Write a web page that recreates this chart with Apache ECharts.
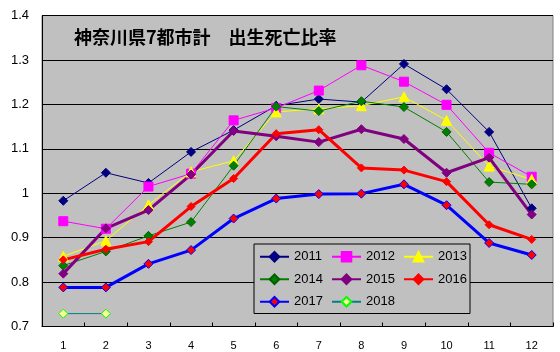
<!DOCTYPE html>
<html>
<head>
<meta charset="utf-8">
<script src="https://cdn.jsdelivr.net/npm/echarts@6/dist/echarts.min.js"></script>
<style>html,body{margin:0;padding:0;background:#fff;}#c{width:560px;height:352px;}</style>
</head>
<body>
<div id="c"></div>
<script>
const titleText = '神奈川県7都市計　出生死亡比率';
const categories = ['1','2','3','4','5','6','7','8','9','10','11','12'];
const yTickLabels = ['0.7','0.8','0.9','1','1.1','1.2','1.3','1.4'];
const seriesNames = ['2011','2012','2013','2014','2015','2016','2017','2018'];
const s2011 = [0.983, 1.046, 1.023, 1.093, 1.142, 1.197, 1.212, 1.205, 1.291, 1.234, 1.138, 0.966];
const s2012 = [0.937, 0.920, 1.015, 1.044, 1.164, 1.192, 1.231, 1.288, 1.251, 1.199, 1.091, 1.037];
const s2013 = [0.858, 0.893, 0.974, 1.048, 1.073, 1.183, 1.190, 1.197, 1.217, 1.164, 1.061, 1.031];
const s2014 = [0.837, 0.869, 0.904, 0.935, 1.062, 1.195, 1.185, 1.207, 1.194, 1.138, 1.025, 1.020];
const s2015 = [0.819, 0.921, 0.962, 1.042, 1.140, 1.128, 1.115, 1.144, 1.122, 1.046, 1.080, 0.952];
const s2016 = [0.850, 0.874, 0.891, 0.970, 1.033, 1.134, 1.143, 1.057, 1.052, 1.026, 0.929, 0.896];
const s2017 = [0.788, 0.788, 0.841, 0.872, 0.943, 0.988, 0.998, 0.999, 1.020, 0.973, 0.888, 0.861];
const s2018 = [0.729, 0.729, null, null, null, null, null, null, null, null, null, null];

const seriesData = [s2011, s2012, s2013, s2014, s2015, s2016, s2017, s2018];
const styles = [
  {line:'#000080', w:1, sym:'diamond', size:9, fill:'#000080', border:'#000080'},
  {line:'#FF00FF', w:1, sym:'rect', size:9, fill:'#FF00FF', border:'#FF00FF'},
  {line:'#FFFF00', w:1, sym:'triangle', size:10, fill:'#FFFF00', border:'#FFFF00'},
  {line:'#008000', w:1, sym:'diamond', size:9, fill:'#008000', border:'#006000'},
  {line:'#800080', w:3, sym:'diamond', size:9, fill:'#800080', border:'#800080'},
  {line:'#FF0000', w:3, sym:'diamond', size:8, fill:'#FF0000', border:'#FF0000'},
  {line:'#0000FF', w:3, sym:'diamond', size:9, fill:'#FF0000', border:'#0000FF'},
  {line:'#008080', w:1, sym:'diamond', size:9, fill:'#FFFF99', border:'#00FF00'}
];

const series = seriesNames.map((name, i) => ({
  name: name,
  type: 'line',
  data: seriesData[i],
  symbol: styles[i].sym,
  symbolSize: styles[i].size,
  showSymbol: true,
  connectNulls: false,
  lineStyle: {color: styles[i].line, width: styles[i].w},
  itemStyle: {color: styles[i].fill, borderColor: styles[i].border, borderWidth: 1},
  emphasis: {disabled: true},
  animation: false
}));

const chart = echarts.init(document.getElementById('c'), null, {renderer: 'canvas'});
chart.setOption({
  animation: false,
  backgroundColor: '#ffffff',
  title: {
    text: titleText,
    left: 69, top: 23,
    textStyle: {fontFamily: '"Noto Sans CJK JP"', fontSize: 18, fontWeight: 'bold', color: '#000'}
  },
  grid: {
    left: 42, right: 7, top: 15.5, bottom: 25.5,
    show: true, backgroundColor: '#C0C0C0', borderColor: '#808080', borderWidth: 1,
    containLabel: false
  },
  legend: {
    data: seriesNames,
    left: 254, top: 244, width: 235,
    orient: 'horizontal',
    padding: [4, 0, 3, 5],
    itemGap: 5,
    itemWidth: 29, itemHeight: 12,
    backgroundColor: '#C0C0C0', borderColor: '#000', borderWidth: 1,
    textStyle: {fontFamily: '"Liberation Sans"', fontSize: 13, color: '#000', width: 32, lineHeight: 17.5},
    selectedMode: false
  },
  xAxis: {
    type: 'category',
    data: categories,
    boundaryGap: true,
    axisLine: {lineStyle: {color: '#000', width: 1}},
    axisTick: {show: true, inside: true, length: 4, interval: 0, alignWithLabel: false, lineStyle: {color: '#000'}},
    axisLabel: {fontFamily: '"Liberation Sans"', fontSize: 11, color: '#000', margin: 14, interval: 0},
    splitLine: {show: false}
  },
  yAxis: {
    type: 'value',
    min: 0.7, max: 1.4, interval: 0.1,
    axisLine: {show: true, lineStyle: {color: '#000', width: 1}},
    axisTick: {show: false},
    axisLabel: {
      fontFamily: '"Liberation Sans"', fontSize: 13, color: '#000', margin: 13,
      formatter: function (v) { const idx = Math.round((v - 0.7) / 0.1); return yTickLabels[idx]; }
    },
    splitLine: {show: true, lineStyle: {color: '#000', width: 1}}
  },
  series: series
});
</script>
</body>
</html>
